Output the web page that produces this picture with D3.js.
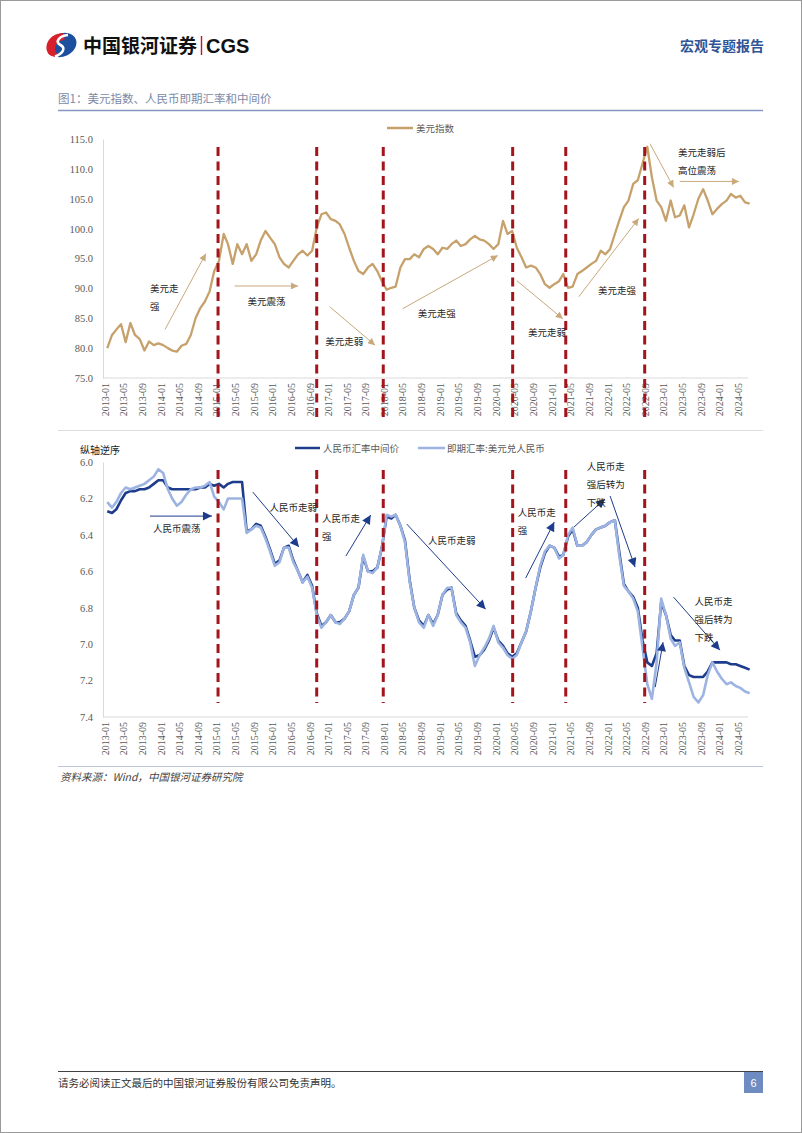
<!DOCTYPE html>
<html>
  <head>
    <meta charset="utf-8">
    <title>美元指数、人民币即期汇率和中间价</title>
    <script src="https://d3js.org/d3.v7.min.js"></script>
    <style>
      body { margin: 0; background: #fff; }
      svg { display: block; }
      .num { font-family: "Liberation Serif", serif; font-size: 10px; fill: #595959; }
      .cn { font-family: "Noto Sans CJK SC", sans-serif; }
    </style>
  </head>
  <body>
    <svg id="page" width="802" height="1133"></svg>
    <script>
      // monthly series, first value = 2013-01
      startMonth = "2013-01";
      dollarIndex = [
        80.0, 82.2, 83.1, 84.0, 81.0, 84.2, 82.2, 81.5, 79.6, 81.1, 80.5, 80.8,
        80.5, 80.0, 79.6, 79.4, 80.4, 80.7, 82.2, 85.0, 86.7, 87.8, 89.5, 92.9,
        94.6, 99.1, 97.4, 94.1, 97.4, 95.7, 97.4, 94.6, 95.7, 98.0, 99.6, 98.5,
        97.4, 95.2, 94.1, 93.5, 94.6, 95.7, 96.3, 95.5, 96.3, 100.2, 102.4, 102.7,
        101.6, 101.3, 100.7, 99.1, 96.8, 94.6, 92.9, 92.4, 93.5, 94.1, 92.9, 91.2,
        89.8, 90.1, 90.3, 93.5, 94.9, 94.9, 95.7, 95.2, 96.6, 97.1, 96.6, 95.7,
        96.8, 96.6, 97.4, 98.0, 97.1, 97.4, 98.2, 98.8, 98.2, 98.0, 97.4, 96.6,
        97.4, 101.3, 99.1, 99.6, 96.8, 95.2, 93.5, 93.8, 93.5, 92.4, 90.7, 90.1,
        90.7, 91.2, 92.4, 90.1, 90.3, 92.4, 92.9, 93.5, 94.1, 94.6, 96.3, 95.7,
        96.6, 99.1, 101.3, 103.6, 104.7, 107.5, 108.1, 110.9, 113.7, 108.6, 104.7, 103.6,
        101.3, 104.7, 101.9, 102.2, 103.9, 100.2, 102.4, 105.0, 106.6, 104.7, 102.4, 103.3,
        104.1, 104.7, 105.8, 105.2, 105.5, 104.4, 104.2
      ];
      cnyMid = [
        6.27, 6.28, 6.26, 6.21, 6.17, 6.16, 6.16, 6.15, 6.15, 6.14, 6.12, 6.10,
        6.10, 6.14, 6.15, 6.15, 6.15, 6.15, 6.15, 6.15, 6.14, 6.14, 6.12, 6.13,
        6.12, 6.14, 6.12, 6.11, 6.11, 6.11, 6.38, 6.37, 6.34, 6.35, 6.41, 6.48,
        6.56, 6.54, 6.47, 6.46, 6.54, 6.60, 6.66, 6.62, 6.68, 6.83, 6.90, 6.88,
        6.84, 6.88, 6.88, 6.86, 6.82, 6.73, 6.69, 6.52, 6.60, 6.60, 6.58, 6.47,
        6.30, 6.31, 6.29, 6.35, 6.43, 6.65, 6.80, 6.87, 6.90, 6.84, 6.89, 6.84,
        6.73, 6.70, 6.69, 6.83, 6.87, 6.90, 6.98, 7.07, 7.06, 7.03, 6.98, 6.91,
        6.98, 7.01, 7.05, 7.07, 7.05, 6.99, 6.93, 6.82, 6.69, 6.58, 6.50, 6.46,
        6.47, 6.52, 6.51, 6.41, 6.37, 6.46, 6.46, 6.44, 6.40, 6.37, 6.36, 6.35,
        6.33, 6.32, 6.49, 6.67, 6.71, 6.74, 6.80, 6.98, 7.10, 7.12, 7.05, 6.77,
        6.84, 6.95, 6.98, 6.98, 7.12, 7.17, 7.18, 7.18, 7.18, 7.15, 7.10, 7.10,
        7.10, 7.10, 7.11, 7.11, 7.12, 7.13, 7.14
      ];
      cnySpot = [
        6.22, 6.25, 6.22, 6.17, 6.14, 6.15, 6.14, 6.13, 6.12, 6.10, 6.08, 6.04,
        6.06, 6.15, 6.20, 6.24, 6.22, 6.18, 6.15, 6.14, 6.14, 6.13, 6.11, 6.19,
        6.22, 6.26, 6.20, 6.20, 6.20, 6.20, 6.39, 6.37, 6.35, 6.36, 6.42, 6.49,
        6.57, 6.55, 6.47, 6.47, 6.55, 6.60, 6.66, 6.63, 6.69, 6.84, 6.91, 6.88,
        6.84, 6.88, 6.89, 6.86, 6.82, 6.73, 6.69, 6.51, 6.60, 6.61, 6.58, 6.47,
        6.29, 6.30, 6.29, 6.35, 6.44, 6.66, 6.80, 6.88, 6.91, 6.84, 6.90, 6.84,
        6.73, 6.69, 6.69, 6.84, 6.88, 6.91, 6.99, 7.12, 7.06, 7.02, 6.97, 6.90,
        6.99, 7.02, 7.06, 7.08, 7.06, 6.99, 6.93, 6.82, 6.69, 6.57, 6.49, 6.46,
        6.47, 6.53, 6.51, 6.40, 6.36, 6.46, 6.46, 6.44, 6.40, 6.37, 6.36, 6.35,
        6.33, 6.32, 6.51, 6.68, 6.71, 6.75, 6.82, 7.02, 7.22, 7.30, 7.10, 6.75,
        6.84, 6.97, 7.01, 6.99, 7.13, 7.21, 7.29, 7.32, 7.28, 7.17, 7.10, 7.15,
        7.19, 7.22, 7.21, 7.23, 7.24, 7.26, 7.27
      ];
      xTickLabels = [
        "2013-01", "2013-05", "2013-09", "2014-01", "2014-05", "2014-09",
        "2015-01", "2015-05", "2015-09", "2016-01", "2016-05", "2016-09",
        "2017-01", "2017-05", "2017-09", "2018-01", "2018-05", "2018-09",
        "2019-01", "2019-05", "2019-09", "2020-01", "2020-05", "2020-09",
        "2021-01", "2021-05", "2021-09", "2022-01", "2022-05", "2022-09",
        "2023-01", "2023-05", "2023-09", "2024-01", "2024-05"
      ];
      dollarTicks = [75, 80, 85, 90, 95, 100, 105, 110, 115];
      cnyTicks = [6.0, 6.2, 6.4, 6.6, 6.8, 7.0, 7.2, 7.4];
      // regime break dates (red dashed lines)
      breakDates = ["2015-01-10", "2016-10-16", "2017-12-25", "2020-04-19", "2021-04-01", "2022-08-30"];
      // annotations: month index from start, value, text lines
      dollarNotes = [
        { m: 9.7, v: 90.0, lines: ["美元走", "强"] },
        { m: 30.7, v: 87.9, lines: ["美元震荡"] },
        { m: 47.3, v: 81.2, lines: ["美元走弱"] },
        { m: 67.2, v: 85.9, lines: ["美元走强"] },
        { m: 90.9, v: 82.7, lines: ["美元走弱"] },
        { m: 105.9, v: 89.8, lines: ["美元走强"] },
        { m: 123.1, v: 112.8, lines: ["美元走弱后", "高位震荡"] }
      ];
      dollarArrows = [
        [12.9, 83.1, 21.7, 95.8],
        [27.9, 90.4, 41.5, 90.4],
        [48.3, 86.9, 58.0, 80.5],
        [64.0, 86.6, 84.4, 95.5],
        [88.5, 91.3, 98.4, 84.9],
        [101.8, 88.6, 114.7, 101.7],
        [117.1, 114.2, 122.2, 106.9],
        [123.5, 107.9, 136.2, 107.9]
      ];
      cnyNotes = [
        { m: 10.3, v: 6.363, lines: ["人民币震荡"] },
        { m: 35.4, v: 6.247, lines: ["人民币走弱"] },
        { m: 46.6, v: 6.308, lines: ["人民币走", "强"] },
        { m: 69.4, v: 6.429, lines: ["人民币走弱"] },
        { m: 88.7, v: 6.275, lines: ["人民币走", "强"] },
        { m: 103.5, v: 6.022, lines: ["人民币走", "强后转为", "下跌"] },
        { m: 126.7, v: 6.764, lines: ["人民币走", "强后转为", "下跌"] }
      ];
      cnyArrows = [
        [9.7, 6.297, 23.0, 6.297],
        [31.8, 6.165, 41.7, 6.467],
        [51.8, 6.516, 57.1, 6.291],
        [64.9, 6.341, 81.8, 6.808],
        [90.4, 6.637, 96.5, 6.330],
        [100.8, 6.357, 107.4, 6.203],
        [108.5, 6.187, 113.9, 6.577],
        [122.2, 6.742, 132.1, 7.033],
        [118.2, 7.236, 119.9, 6.989]
      ];

      // colours
      gold = "#C6A16B";
      navy = "#1E3C8C";
      lightBlue = "#9DB4E2";
      dashRed = "#A3141C";
      axisGrey = "#D9D9D9";

      page = d3.select("#page");
      parseMonth = d3.timeParse("%Y-%m");
      parseDay = d3.timeParse("%Y-%m-%d");
      t0 = parseMonth(startMonth);
      function monthDate(m) {
        return d3.timeDay.offset(d3.timeMonth.offset(t0, Math.floor(m)), Math.round((m % 1) * 30));
      }

      // page frame and header
      page.append("rect").attr("x", 0.5).attr("y", 0.5).attr("width", 801).attr("height", 1132)
        .attr("fill", "none").attr("stroke", "#9a9a9a");
      logo = page.append("g");
      logo.append("ellipse").attr("cx", 62).attr("cy", 45).attr("rx", 15).attr("ry", 11.5)
        .attr("transform", "rotate(-25 62 45)").attr("fill", "#1d4f9f");
      logo.append("path").attr("d", "M64 33.2 C52 32.5 44.5 42 47 51 C48.5 56.5 55 58 59.5 55.5 C54.5 53 53.5 47 57.5 43 C59.5 41 62 40 64.5 40 Z")
        .attr("fill", "#d7202c");
      logo.append("path").attr("d", "M68 35 C59 36 54.5 42 60.5 45 C66.5 48 62.5 54 55 56.5")
        .attr("fill", "none").attr("stroke", "#fff").attr("stroke-width", 2.6);
      page.append("text").attr("class", "cn").attr("x", 83).attr("y", 52.5)
        .style("font-size", "19px").style("font-weight", 700).attr("fill", "#111").text("中国银河证券");
      page.append("line").attr("x1", 201.5).attr("x2", 201.5).attr("y1", 36).attr("y2", 55)
        .attr("stroke", "#c8102e").attr("stroke-width", 1.4);
      page.append("text").attr("x", 206).attr("y", 53)
        .style("font-family", "'Liberation Sans', Arial, sans-serif").style("font-size", "20px").style("font-weight", 700)
        .attr("fill", "#111").text("CGS");
      page.append("text").attr("class", "cn").attr("x", 764).attr("y", 51).attr("text-anchor", "end")
        .style("font-size", "14px").style("font-weight", 700).attr("fill", "#2f5597").text("宏观专题报告");
      page.append("text").attr("class", "cn").attr("x", 58).attr("y", 103)
        .style("font-size", "11.5px").attr("fill", "#7b8aa8").text("图1：美元指数、人民币即期汇率和中间价");
      page.append("line").attr("x1", 58).attr("x2", 763).attr("y1", 110.5).attr("y2", 110.5)
        .attr("stroke", "#8597c2").attr("stroke-width", 1.3);
      page.append("line").attr("x1", 58).attr("x2", 763).attr("y1", 430.5).attr("y2", 430.5)
        .attr("stroke", "#d6d6d6").attr("stroke-width", 0.8);

      // arrow heads
      defs = page.append("defs");
      defs.append("marker").attr("id", "headGold").attr("viewBox", "0 0 10 10").attr("refX", 10).attr("refY", 5)
        .attr("markerUnits", "userSpaceOnUse").attr("markerWidth", 8).attr("markerHeight", 7).attr("orient", "auto")
        .append("path").attr("d", "M0 0 L10 5 L0 10 Z").attr("fill", "#C9A87A");
      defs.append("marker").attr("id", "headNavy").attr("viewBox", "0 0 10 10").attr("refX", 10).attr("refY", 5)
        .attr("markerUnits", "userSpaceOnUse").attr("markerWidth", 11).attr("markerHeight", 9).attr("orient", "auto")
        .append("path").attr("d", "M0 0 L10 5 L0 10 Z").attr("fill", navy);

      // shared x scale
      x = d3.scaleTime()
        .domain([parseMonth("2013-01"), parseMonth("2024-05")])
        .range([105, 738]);
      xm = function(m) { return x(monthDate(m)); };
      tickDates = xTickLabels.map(parseMonth);

      function drawPanel(opts) {
        let g = page.append("g");
        let y = opts.y;
        let axisY = opts.axisY;
        // axes
        let yAxis = d3.axisLeft(y).tickValues(opts.ticks).tickFormat(d3.format(".1f"))
          .tickSize(0).tickSizeOuter(0).tickPadding(10);
        let ya = g.append("g").attr("transform", "translate(103,0)").call(yAxis);
        ya.select(".domain").attr("stroke", axisGrey);
        ya.selectAll("text").attr("class", "num").attr("fill", "#595959").style("font-size", "10.5px");
        g.append("line").attr("x1", 103).attr("x2", 748).attr("y1", axisY).attr("y2", axisY)
          .attr("stroke", axisGrey);
        let xAxis = d3.axisBottom(x).tickValues(tickDates).tickFormat(d3.timeFormat("%Y-%m"))
          .tickSize(0).tickSizeOuter(0);
        let xa = g.append("g").attr("transform", "translate(0," + axisY + ")").call(xAxis);
        xa.select(".domain").remove();
        xa.selectAll("text").attr("class", "num").attr("fill", "#595959")
          .attr("transform", "rotate(-90)").attr("x", -5).attr("y", 0).attr("dy", "0.32em")
          .attr("text-anchor", "end");
        // series
        opts.series.forEach(function(s) {
          let line = d3.line()
            .x(function(d, i) { return xm(i + 0.5); })
            .y(function(d) { return y(d); });
          g.append("path").datum(s.values).attr("d", line)
            .attr("fill", "none").attr("stroke", s.color).attr("stroke-width", s.width)
            .attr("stroke-linejoin", "round");
        });
        // break lines
        breakDates.forEach(function(d) {
          let bx = x(parseDay(d));
          g.append("line").attr("x1", bx).attr("x2", bx).attr("y1", opts.dashTop).attr("y2", opts.dashBottom)
            .attr("stroke", dashRed).attr("stroke-width", 3).attr("stroke-dasharray", "9,5.5");
        });
        // arrows
        opts.arrows.forEach(function(a) {
          g.append("line").attr("x1", xm(a[0])).attr("y1", y(a[1])).attr("x2", xm(a[2])).attr("y2", y(a[3]))
            .attr("stroke", opts.arrowColor).attr("stroke-width", 1)
            .attr("marker-end", "url(#" + opts.marker + ")");
        });
        // notes
        opts.notes.forEach(function(n) {
          n.lines.forEach(function(t, k) {
            g.append("text").attr("class", "cn").attr("x", xm(n.m)).attr("y", y(n.v) + k * 18)
              .attr("dominant-baseline", "central").style("font-size", "9.5px").attr("fill", "#262626")
              .text(t);
          });
        });
        return g;
      }

      // top panel: dollar index
      topPanel = drawPanel({
        y: d3.scaleLinear().domain([75, 115]).range([378, 139]),
        ticks: dollarTicks,
        axisY: 378,
        series: [{ values: dollarIndex, color: gold, width: 2.3 }],
        dashTop: 147,
        dashBottom: 422,
        arrows: dollarArrows,
        arrowColor: "#C9A87A",
        marker: "headGold",
        notes: dollarNotes
      });
      topPanel.append("line").attr("x1", 387).attr("x2", 413).attr("y1", 128).attr("y2", 128)
        .attr("stroke", gold).attr("stroke-width", 2.5);
      topPanel.append("text").attr("class", "cn").attr("x", 416).attr("y", 128).attr("dominant-baseline", "central")
        .style("font-size", "9.5px").attr("fill", "#595959").text("美元指数");

      // bottom panel: cny, reversed axis
      bottomPanel = drawPanel({
        y: d3.scaleLinear().domain([6.0, 7.4]).range([462, 717]),
        ticks: cnyTicks,
        axisY: 717,
        series: [
          { values: cnyMid, color: navy, width: 2.6 },
          { values: cnySpot, color: lightBlue, width: 2.6 }
        ],
        dashTop: 470,
        dashBottom: 703,
        arrows: cnyArrows,
        arrowColor: navy,
        marker: "headNavy",
        notes: cnyNotes
      });
      bottomPanel.append("text").attr("class", "cn").attr("x", 80).attr("y", 449).attr("dominant-baseline", "central")
        .style("font-size", "10px").attr("fill", "#222").text("纵轴逆序");
      bottomPanel.append("line").attr("x1", 295).attr("x2", 320).attr("y1", 448).attr("y2", 448)
        .attr("stroke", navy).attr("stroke-width", 2.5);
      bottomPanel.append("text").attr("class", "cn").attr("x", 323).attr("y", 448).attr("dominant-baseline", "central")
        .style("font-size", "9.5px").attr("fill", "#595959").text("人民币汇率中间价");
      bottomPanel.append("line").attr("x1", 418).attr("x2", 445).attr("y1", 448).attr("y2", 448)
        .attr("stroke", lightBlue).attr("stroke-width", 2.5);
      bottomPanel.append("text").attr("class", "cn").attr("x", 447).attr("y", 448).attr("dominant-baseline", "central")
        .style("font-size", "9.5px").attr("fill", "#595959").text("即期汇率:美元兑人民币");

      // source and footer
      page.append("line").attr("x1", 58).attr("x2", 763).attr("y1", 766.5).attr("y2", 766.5)
        .attr("stroke", "#a9b5d2").attr("stroke-width", 0.8);
      page.append("text").attr("class", "cn").attr("x", 60).attr("y", 781)
        .style("font-size", "10.5px").style("font-style", "italic").attr("fill", "#444").text("资料来源：Wind，中国银河证券研究院");
      page.append("line").attr("x1", 58).attr("x2", 763).attr("y1", 1071.5).attr("y2", 1071.5)
        .attr("stroke", "#404040").attr("stroke-width", 1);
      page.append("text").attr("class", "cn").attr("x", 58).attr("y", 1087)
        .style("font-size", "10.5px").attr("fill", "#333").text("请务必阅读正文最后的中国银河证券股份有限公司免责声明。");
      page.append("rect").attr("x", 744).attr("y", 1072).attr("width", 19).attr("height", 21).attr("fill", "#6f8cc2");
      page.append("text").attr("x", 753.5).attr("y", 1087).attr("text-anchor", "middle")
        .style("font-family", "'Liberation Sans', sans-serif").style("font-size", "11px").attr("fill", "#fff").text("6");
    </script>
  </body>
</html>
